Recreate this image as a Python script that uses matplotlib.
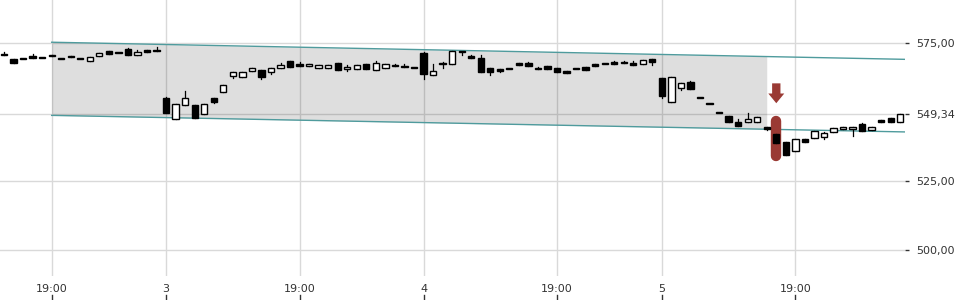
import matplotlib
matplotlib.use("Agg")
import matplotlib.pyplot as plt
from matplotlib.patches import Rectangle
import numpy as np

plt.rcParams['font.family'] = 'DejaVu Sans'
plt.rcParams['font.size'] = 8

# candle data (one candle per slot)
opens = [571.1, 569.1, 569.4, 570.3, 569.7, 570.5, 569.1, 570.2, 569.1, 568.4,
         570.2, 572.0, 571.3, 572.7, 570.5, 572.4, 572.5, 555.1, 547.6, 552.4,
         552.5, 549.2, 555.0, 557.4, 562.9, 562.8, 564.7, 565.2, 564.6, 565.8,
         568.5, 567.3, 566.7, 565.9, 565.9, 567.8, 565.7, 565.5, 567.3, 565.1,
         565.9, 566.8, 566.8, 565.8, 571.5, 563.3, 567.4, 567.3, 571.6, 570.2,
         569.6, 565.9, 565.7, 565.5, 567.8, 567.9, 566.1, 566.7, 565.8, 564.9,
         565.5, 566.3, 567.4, 567.3, 568.1, 567.9, 567.9, 567.5, 569.1, 562.2,
         553.5, 558.6, 561.0, 555.2, 552.9, 549.6, 548.6, 546.5, 546.5, 546.3,
         544.6, 542.0, 539.0, 535.9, 540.2, 540.5, 541.1, 542.6, 543.8, 543.8,
         545.5, 543.4, 547.0, 547.8, 546.5]
closes = [570.7, 567.8, 569.2, 569.5, 569.5, 570.2, 569.1, 569.9, 569.1, 569.8,
          571.5, 571.1, 571.3, 570.8, 571.6, 571.6, 572.0, 549.5, 552.8, 555.0,
          547.7, 552.8, 553.6, 559.7, 564.6, 564.4, 565.8, 562.6, 566.1, 567.1,
          566.2, 566.7, 567.5, 567.0, 567.0, 565.1, 566.4, 567.0, 565.5, 567.6,
          567.4, 566.8, 566.3, 565.8, 563.7, 564.9, 567.4, 572.1, 571.6, 569.5,
          564.5, 564.5, 564.9, 565.5, 567.1, 566.6, 565.5, 565.7, 564.6, 564.2,
          565.5, 565.3, 566.8, 567.3, 567.5, 567.9, 567.1, 568.8, 568.1, 555.9,
          562.6, 560.4, 558.4, 555.2, 552.9, 549.6, 546.5, 545.0, 547.5, 548.1,
          544.0, 538.9, 534.3, 540.2, 539.0, 543.0, 542.3, 544.1, 544.6, 544.6,
          543.0, 544.6, 546.5, 546.5, 549.34]
highs = [571.6, 569.1, 569.4, 570.9, 569.7, 570.5, 569.1, 570.2, 569.1, 569.8,
         571.5, 572.0, 571.3, 573.2, 572.4, 572.4, 573.6, 555.4, 552.8, 557.6,
         552.5, 552.8, 555.0, 559.7, 564.6, 564.4, 565.8, 565.2, 566.1, 567.9,
         568.5, 568.1, 567.5, 567.0, 567.0, 567.8, 566.9, 567.0, 567.3, 568.4,
         567.4, 567.3, 567.5, 565.8, 571.7, 567.4, 568.1, 572.3, 571.6, 570.6,
         570.6, 565.9, 565.7, 565.5, 567.8, 568.1, 566.4, 566.7, 565.8, 564.9,
         565.5, 566.3, 567.4, 567.3, 568.6, 568.4, 568.4, 568.8, 569.1, 562.2,
         562.6, 560.4, 561.3, 555.2, 552.9, 549.6, 548.6, 547.4, 549.7, 548.1,
         544.6, 542.0, 539.0, 540.2, 540.2, 543.0, 542.9, 544.1, 544.6, 544.6,
         546.0, 544.6, 547.0, 547.8, 549.4]
lows = [570.7, 567.6, 569.2, 569.5, 569.5, 570.2, 569.1, 569.9, 569.1, 568.4,
        570.2, 571.1, 571.3, 570.8, 570.5, 571.6, 572.0, 549.5, 547.6, 552.4,
        547.7, 549.2, 553.3, 557.4, 562.4, 562.8, 564.7, 562.1, 563.9, 565.8,
        566.2, 566.7, 566.7, 565.9, 565.9, 565.1, 565.0, 565.5, 565.5, 565.1,
        565.9, 566.8, 566.3, 565.8, 562.0, 563.3, 565.8, 567.3, 570.5, 569.5,
        564.5, 563.5, 564.4, 565.5, 567.1, 566.6, 565.5, 565.7, 564.6, 564.2,
        565.5, 565.3, 566.8, 567.3, 567.5, 567.9, 567.1, 567.5, 567.1, 555.2,
        553.5, 558.0, 558.4, 555.2, 552.9, 549.6, 546.5, 545.0, 546.5, 546.3,
        543.5, 538.9, 534.3, 535.9, 539.0, 540.5, 540.2, 542.6, 543.8, 541.4,
        543.0, 543.4, 546.5, 546.5, 546.5]

last_price = 549.34
y_ticks = [500.0, 525.0, last_price, 575.0]

# trend channel
channel_x = [5, 94.5]
channel_upper = [575.3, 569.1]
channel_lower = [548.8, 542.8]
shade_end = 80

# signal marker
signal_idx = 81
signal_bar = [534.1, 546.7]
arrow_top, arrow_tip = 560.4, 553.2

x_tick_pos = [5, 17, 31, 44, 58, 69, 83]
x_tick_labels = ['19:00', '3', '19:00', '4', '19:00', '5', '19:00']

grid_c = '#d9d9d9'
teal = '#4f9b9d'
red = '#9a3a34'

fig = plt.figure(figsize=(9.6, 3), dpi=100)
ax = fig.add_axes([0, 0.08, 905 / 960, 0.92])
ax.set_xlim(-0.42, 94.5)
ax.set_ylim(490.6, 590.6)

for y in y_ticks:
    ax.axhline(y, color=grid_c, lw=1, zorder=0)
for x in x_tick_pos:
    ax.axvline(x, color=grid_c, lw=1, zorder=0)

# channel shading + lines
xs = np.linspace(channel_x[0], shade_end, 50)
up = np.interp(xs, channel_x, channel_upper)
lo = np.interp(xs, channel_x, channel_lower)
ax.fill_between(xs, lo, up, color='black', alpha=0.13, lw=0, zorder=1)
ax.plot(channel_x, channel_upper, color=teal, lw=1, zorder=2)
ax.plot(channel_x, channel_lower, color=teal, lw=1, zorder=2)

# signal highlight
ax.plot([signal_idx, signal_idx], signal_bar, color=red, lw=7.5,
        solid_capstyle='round', zorder=3)
ax.annotate('', xy=(signal_idx, arrow_tip), xytext=(signal_idx, arrow_top),
            arrowprops=dict(arrowstyle='simple,head_width=1.15,head_length=0.7,tail_width=0.6',
                            mutation_scale=10, color=red, lw=0,
                            shrinkA=0, shrinkB=0),
            zorder=3)

# candles
w = 0.66
for i in range(len(opens)):
    o, c, h, l = opens[i], closes[i], highs[i], lows[i]
    ax.plot([i, i], [l, h], color='black', lw=0.9, zorder=4)
    bottom = min(o, c)
    height = max(abs(c - o), 0.35)
    face = 'white' if c > o else 'black'
    ax.add_patch(Rectangle((i - w / 2, bottom), w, height, facecolor=face,
                           edgecolor='black', lw=1.0, zorder=5))

for s in ax.spines.values():
    s.set_visible(False)

ax.yaxis.tick_right()
ax.set_yticks(y_ticks)
ax.set_yticklabels([('%.2f' % v).replace('.', ',') for v in y_ticks])
ax.tick_params(axis='y', length=3, width=1, color='#333333', pad=5,
               labelcolor='#333333', labelsize=8)

ax.set_xticks(x_tick_pos)
ax.set_xticklabels(x_tick_labels)
ax.tick_params(axis='x', length=0, pad=6, labelcolor='#333333', labelsize=8)
# small tick marks sit below the labels
trans = ax.get_xaxis_transform()
for x in x_tick_pos:
    ax.plot([x, x], [-0.068, -0.082], color='#333333', lw=1,
            transform=trans, clip_on=False)

fig.savefig('out.png', dpi=100)
